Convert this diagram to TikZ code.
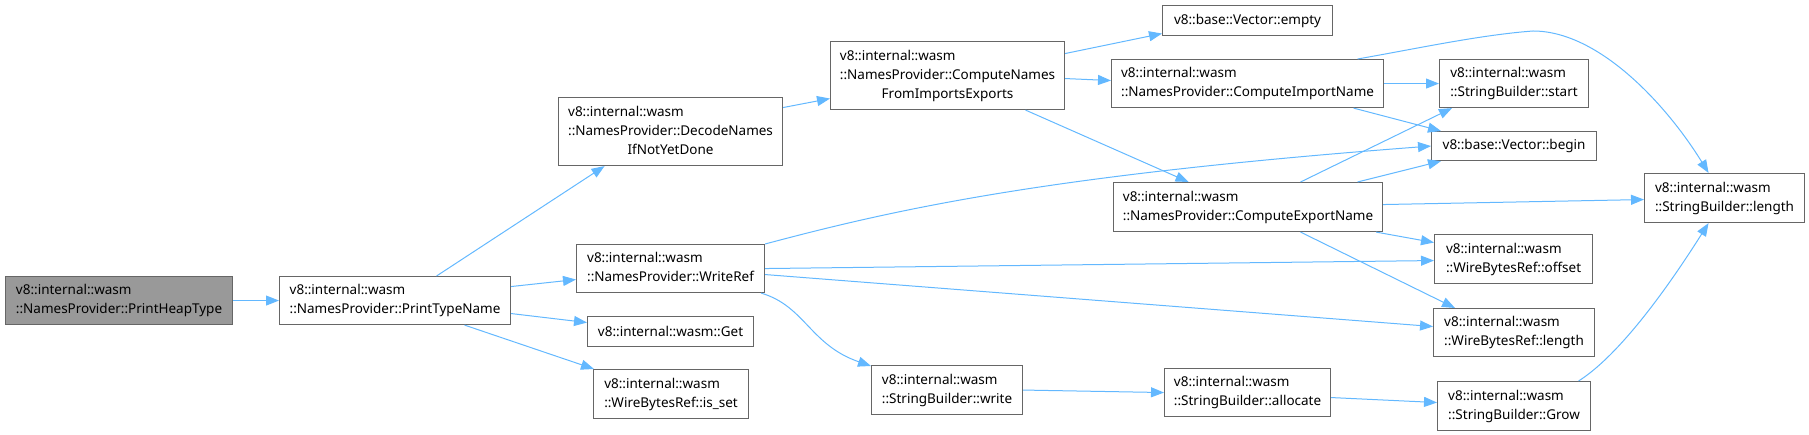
\documentclass[tikz,border=0pt]{standalone}
\usepackage{fontspec}
\setmainfont{Noto Sans}
\usetikzlibrary{arrows.meta}
\definecolor{edgec}{HTML}{63B8FF}
\definecolor{boxc}{HTML}{666666}
\definecolor{focusc}{HTML}{999999}
\newcommand{\twol}[2]{\begin{tabular}{@{}l@{}}#1\\#2\end{tabular}}
\newcommand{\threel}[3]{\begin{tabular}{@{}l@{}}#1\\#2\\\multicolumn{1}{@{}c@{}}{#3}\end{tabular}}
\begin{document}
\begin{tikzpicture}[x=1pt,y=-1pt,
  fn/.style={draw=boxc, line width=1.1pt, fill=white, inner sep=0pt, anchor=north west,
    font=\fontsize{13.5}{19}\selectfont},
  cur/.style={fn, fill=focusc},
  call/.style={draw=edgec, line width=1pt, -{Triangle[length=13pt,width=10pt]}}]
\useasboundingbox (0,0) rectangle (1809,435);
% nodes
\node[cur, minimum width=227pt, minimum height=48pt] (pht) at (5,276) {\twol{v8::internal::wasm}{::NamesProvider::PrintHeapType}};
\node[fn, minimum width=231pt, minimum height=48pt] (ptn) at (279,276) {\twol{v8::internal::wasm}{::NamesProvider::PrintTypeName}};
\node[fn, minimum width=224pt, minimum height=68pt] (dec) at (558,97) {\threel{v8::internal::wasm}{::NamesProvider::DecodeNames}{IfNotYetDone}};
\node[fn, minimum width=188pt, minimum height=48pt] (wref) at (576,244) {\twol{v8::internal::wasm}{::NamesProvider::WriteRef}};
\node[fn, minimum width=166pt, minimum height=30pt] (get) at (587,316) {v8::internal::wasm::Get};
\node[fn, minimum width=155pt, minimum height=49pt] (isset) at (593,369) {\twol{v8::internal::wasm}{::WireBytesRef::is\_set}};
\node[fn, minimum width=234pt, minimum height=68pt] (cnfie) at (830,41) {\threel{v8::internal::wasm}{::NamesProvider::ComputeNames}{FromImportsExports}};
\node[fn, minimum width=151pt, minimum height=49pt] (write) at (871,365) {\twol{v8::internal::wasm}{::StringBuilder::write}};
\node[fn, minimum width=170pt, minimum height=30pt] (empty) at (1162,5) {v8::base::Vector::empty};
\node[fn, minimum width=272pt, minimum height=48pt] (cin) at (1111,59) {\twol{v8::internal::wasm}{::NamesProvider::ComputeImportName}};
\node[fn, minimum width=269pt, minimum height=49pt] (cen) at (1113,182) {\twol{v8::internal::wasm}{::NamesProvider::ComputeExportName}};
\node[fn, minimum width=166pt, minimum height=48pt] (alloc) at (1164,368) {\twol{v8::internal::wasm}{::StringBuilder::allocate}};
\node[fn, minimum width=149pt, minimum height=48pt] (start) at (1439,59) {\twol{v8::internal::wasm}{::StringBuilder::start}};
\node[fn, minimum width=165pt, minimum height=29pt] (begin) at (1431,131) {v8::base::Vector::begin};
\node[fn, minimum width=158pt, minimum height=49pt] (offset) at (1434,234) {\twol{v8::internal::wasm}{::WireBytesRef::offset}};
\node[fn, minimum width=161pt, minimum height=48pt] (wlen) at (1433,308) {\twol{v8::internal::wasm}{::WireBytesRef::length}};
\node[fn, minimum width=153pt, minimum height=49pt] (grow) at (1437,381) {\twol{v8::internal::wasm}{::StringBuilder::Grow}};
\node[fn, minimum width=160pt, minimum height=49pt] (slen) at (1644,173) {\twol{v8::internal::wasm}{::StringBuilder::length}};
% edges
\draw[call] (pht.east) -- (ptn.west);
\draw[call] ([xshift=41.5pt]ptn.north) -- ([xshift=-66pt]dec.south);
\draw[call] ([yshift=14pt]ptn.east) -- ([yshift=-11pt]wref.west);
\draw[call] ([yshift=-13pt]ptn.east) -- ([yshift=9pt]get.west);
\draw[call] ([xshift=69.5pt]ptn.south) -- ([xshift=1pt]isset.north west);
\draw[call] ([yshift=24pt]dec.east) -- ([yshift=-23pt]cnfie.west);
\draw[call] ([yshift=22pt]cnfie.east) -- ([yshift=-13pt]empty.west);
\draw[call] ([yshift=-3pt]cnfie.east) -- ([yshift=3pt]cin.west);
\draw[call] ([xshift=78pt]cnfie.south) -- ([xshift=-59.5pt]cen.north);
\draw[call] (cin.east) -- (start.west);
\draw[call] ([xshift=106pt]cin.south) -- ([xshift=10pt]begin.north west);
\draw[call] ([xshift=110pt]cin.north) .. controls (1420,48) and (1480,35) .. (1533,31)
  .. controls (1600,31) and (1668,107) .. ([xshift=-16pt]slen.north);
\draw[call] ([xshift=52.5pt]cen.north) -- ([xshift=13pt]start.south west);
\draw[call] ([xshift=109.5pt]cen.north) -- ([xshift=10pt]begin.south west);
\draw[call] ([yshift=2.5pt]cen.east) -- ([yshift=-1.5pt]slen.west);
\draw[call] ([xshift=-7pt]cen.south east) -- ([yshift=16.5pt]offset.west);
\draw[call] ([xshift=52.5pt]cen.south) -- ([xshift=22pt]wlen.north west);
\draw[call] (wref.north east) .. controls (900,208) and (1050,175) .. (begin.west);
\draw[call] (wref.east) -- ([yshift=-1.5pt]offset.west);
\draw[call] ([yshift=-6pt]wref.east) -- ([yshift=6pt]wlen.west);
\draw[call] ([xshift=-4pt]wref.south east) .. controls (805,306) and (810,345) .. ([yshift=-1pt]write.north west);
\draw[call] (write.east) -- (alloc.west);
\draw[call] ([yshift=-5pt]alloc.east) -- ([yshift=3.5pt]grow.west);
\draw[call] ([xshift=64.5pt]grow.north) .. controls (1615,358) and (1660,300) .. ([xshift=-16pt]slen.south);
\end{tikzpicture}
\end{document}
